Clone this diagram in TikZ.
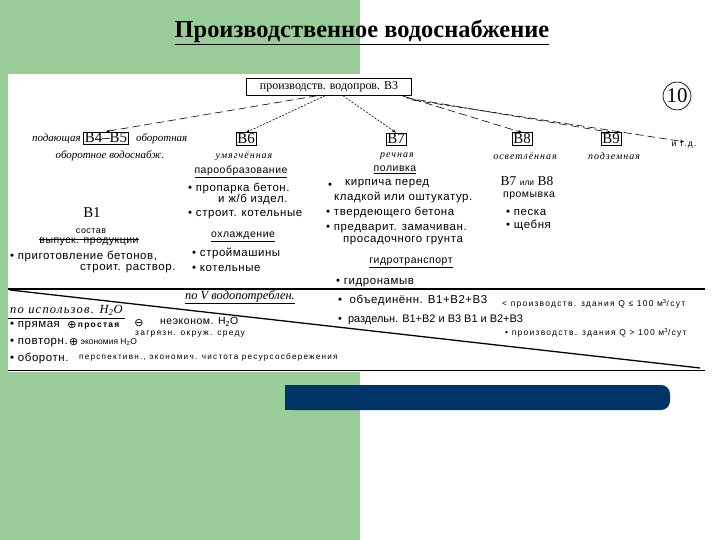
\documentclass[tikz,border=0pt]{standalone}
\usepackage{fontspec}
\setmainfont{Liberation Serif}
\newfontfamily\sansf{Liberation Sans}
\newfontfamily\labsans[LetterSpace=5]{Liberation Sans}
\newfontfamily\smallsans[LetterSpace=15]{Liberation Sans}
\newfontfamily\itsp[LetterSpace=10]{Liberation Serif}
\newfontfamily\dvs{DejaVu Sans}
\usetikzlibrary{arrows.meta,calc}
\definecolor{bggreen}{RGB}{153,204,153}
\definecolor{barblue}{RGB}{0,51,102}
\tikzset{
  lab/.style={font=\labsans\fontsize{11.5}{13}\selectfont, inner sep=0pt, anchor=west},
  smalltxt/.style={font=\smallsans\fontsize{8.5}{10}\selectfont, inner sep=0pt, anchor=west},
  ital/.style={font=\fontsize{11}{13}\selectfont\itshape, inner sep=0pt},
  itals/.style={font=\itsp\fontsize{10}{12}\selectfont\itshape, inner sep=0pt},
  bbox/.style={draw, line width=0.6pt, font=\fontsize{15}{17}\selectfont, inner sep=1.2pt},
  ulab/.style={font=\labsans\fontsize{10.5}{12}\selectfont, inner sep=0pt},
  sym/.style={inner sep=0pt, font=\dvs\fontsize{11}{13}\selectfont},
  arr/.style={-{Stealth[length=4pt,width=3pt]}, line width=0.6pt},
  longdash/.style={arr, dash pattern=on 8pt off 4pt},
  finedot/.style={arr, dash pattern=on 2pt off 1.5pt},
}
\begin{document}
\begin{tikzpicture}[x=1bp,y=-1bp]
\useasboundingbox (0,0) rectangle (720,540);
% background
\fill[white] (0,0) rectangle (720,540);
\fill[bggreen] (0,0) rectangle (360,540);
\fill[white] (8,74) rectangle (720,372);
% title
\node[font=\fontsize{24.5}{28}\selectfont\bfseries, inner sep=0pt] (title) at (362,32) {\underline{Производственное водоснабжение}};
% blue bar
\fill[barblue, rounded corners=9] (285,385) rectangle (670,410);
\fill[barblue] (285,385) rectangle (300,410);

% top box
\node[draw, line width=0.6pt, font=\fontsize{12}{14}\selectfont, inner sep=2.5pt, minimum width=166, minimum height=17] (top) at (329,87) {производств. водопров. В3};
\node[draw, circle, line width=0.7pt, minimum size=28, inner sep=0pt, font=\fontsize{21}{24}\selectfont] (ten) at (677,96) {10};

% level 2
\node[bbox] (b45) at (106,138) {В4–В5};
\node[ital, anchor=east] (pod) at (81,139) {подающая};
\node[ital, anchor=west] (obor) at (136,139) {оборотная};
\node[ital] (obvs) at (110,156) {оборотное водоснабж.};

\node[bbox] (b6) at (246,139) {В6};
\node[itals] (umg) at (244,156) {умягчённая};
\node[bbox] (b7) at (396,139) {В7};
\node[itals] (rech) at (397,156) {речная};
\node[bbox] (b8) at (522,139) {В8};
\node[itals] (osv) at (525,156) {осветлённая};
\node[bbox] (b9) at (611,139) {В9};
\node[itals] (podz) at (614,156) {подземная};
\node[ulab, font=\smallsans\fontsize{8.5}{10}\selectfont] (itd) at (684,145) {и т.д.};

% connectors
\draw[longdash] ($(top.south)+(-12,0)$) -- (b45.north);
\draw[finedot] ($(top.south)+(-4,0)$) -- (b6.north);
\draw[finedot] ($(top.south)+(14,0)$) -- (b7.north);
\draw[longdash] ($(top.south east)+(-10,0)$) -- (b8.north);
\draw[longdash] ($(top.south east)+(-6,2)$) -- (b9.north);
\draw[longdash] ($(top.south east)+(-1,4)$) -- (itd.north);

% left block B1
\node[font=\fontsize{15}{17}\selectfont, inner sep=0pt] (b1) at (92,213) {В1};
\node[ulab, font=\labsans\fontsize{9}{11}\selectfont] (sost) at (91,231) {состав};
\node[ulab, font=\labsans\fontsize{10.5}{12}\selectfont] (vyp) at (89,242) {выпуск. продукции};
\draw[line width=0.5pt] ($(vyp.north west)+(0,1)$) -- ($(vyp.north east)+(0,1)$);
\node[lab] (prig) at (10,256) {• приготовление бетонов,};
\node[lab] (strr) at (80,269) {строит. раствор.};

% B6 block
\node[ulab] (parob) at (241,172) {\underline{парообразование}};
\node[lab] (prop) at (188,188) {• пропарка бетон.};
\node[lab] (izd) at (218,199) {и ж/б издел.};
\node[lab] (kot1) at (188,215) {• строит. котельные};
\node[ulab] (ohl) at (243,237) {\underline{охлаждение}};
\node[lab] (strm) at (192,253) {• строймашины};
\node[lab] (kot2) at (192,268) {• котельные};

% B7 block
\node[ulab] (poliv) at (395,170) {\underline{поливка}};
\node[lab] (bul1) at (328,186) {•};
\node[lab] (kirp) at (345,184) {кирпича перед};
\node[lab] (klad) at (334,197) {кладкой или оштукатур.};
\node[lab] (tverd) at (326,212) {• твердеющего бетона};
\node[lab] (predv) at (326,229) {• предварит. замачиван.};
\node[lab] (pros) at (343,241) {просадочного грунта};
\node[ulab] (gidr) at (411,263) {\underline{гидротранспорт}};
\node[lab] (gnam) at (336,283) {• гидронамыв};

% B8 block
\node[inner sep=0pt, font=\fontsize{13.5}{15}\selectfont] (b78) at (527,181) {В7 {\sansf\fontsize{8.5}{10}\selectfont или} В8};
\node[ulab] (prom) at (529,196) {промывка};
\node[lab] (pesk) at (506,212) {• песка};
\node[lab] (shch) at (506,225) {• щебня};

% lines
\draw[line width=2pt] (8,289) -- (705,289);
\draw[line width=1.3pt] (10,290) -- (700,368);
\draw[line width=0.8pt] (8,370) -- (705,370);

% lower part
\node[inner sep=0pt, font=\fontsize{12.5}{14}\selectfont\itshape] (poV) at (240,297) {\underline{по V водопотреблен.}};
\node[inner sep=0pt, anchor=west, font=\itsp\fontsize{12.5}{14}\selectfont\itshape] (poisp) at (10,310) {по использов. H\textsubscript{2}O};
\draw[line width=0.8pt] (8,318) -- (125,318);

\node[lab] (pr) at (10,326) {• прямая};
\node[sym, anchor=west] (plus1) at ($(pr.east)+(7,-1)$) {⊕};
\node[smalltxt, font=\smallsans\bfseries\fontsize{8.5}{10}\selectfont] (prost) at ($(plus1.east)+(1,1)$) {простая};
\node[sym] (minus) at (139,323) {⊖};
\node[lab, font=\labsans\fontsize{10.5}{12}\selectfont] (neek) at (160,322) {неэконом. H\textsubscript{2}O};
\node[smalltxt] (zagr) at (135,334) {загрязн. окруж. среду};

\node[lab] (povt) at (10,343) {• повторн.};
\node[sym, anchor=west] (plus2) at ($(povt.east)+(1,-1)$) {⊕};
\node[smalltxt, font=\sansf\fontsize{8.5}{10}\selectfont] (ekon) at ($(plus2.east)+(2,0)$) {экономия H\textsubscript{2}O};

\node[lab] (obrt) at (10,358) {• оборотн.};
\node[smalltxt, font=\smallsans\fontsize{8.2}{10}\selectfont] (persp) at (79,357) {перспективн., экономич. чистота ресурсосбережения};

\node[lab] (obed) at (338,300) {• \ объединённ. В1+В2+В3};
\node[smalltxt] (q1) at (502,304) {< производств. здания Q ≤ 100 м\textsuperscript{3}/сут};
\node[lab, font=\sansf\fontsize{11}{13}\selectfont] (razd) at (338,320) {• \ раздельн. В1+В2 и В3 В1 и В2+В3};
\node[smalltxt] (q2) at (505,333) {• производств. здания Q > 100 м\textsuperscript{3}/сут};
\end{tikzpicture}
\end{document}
